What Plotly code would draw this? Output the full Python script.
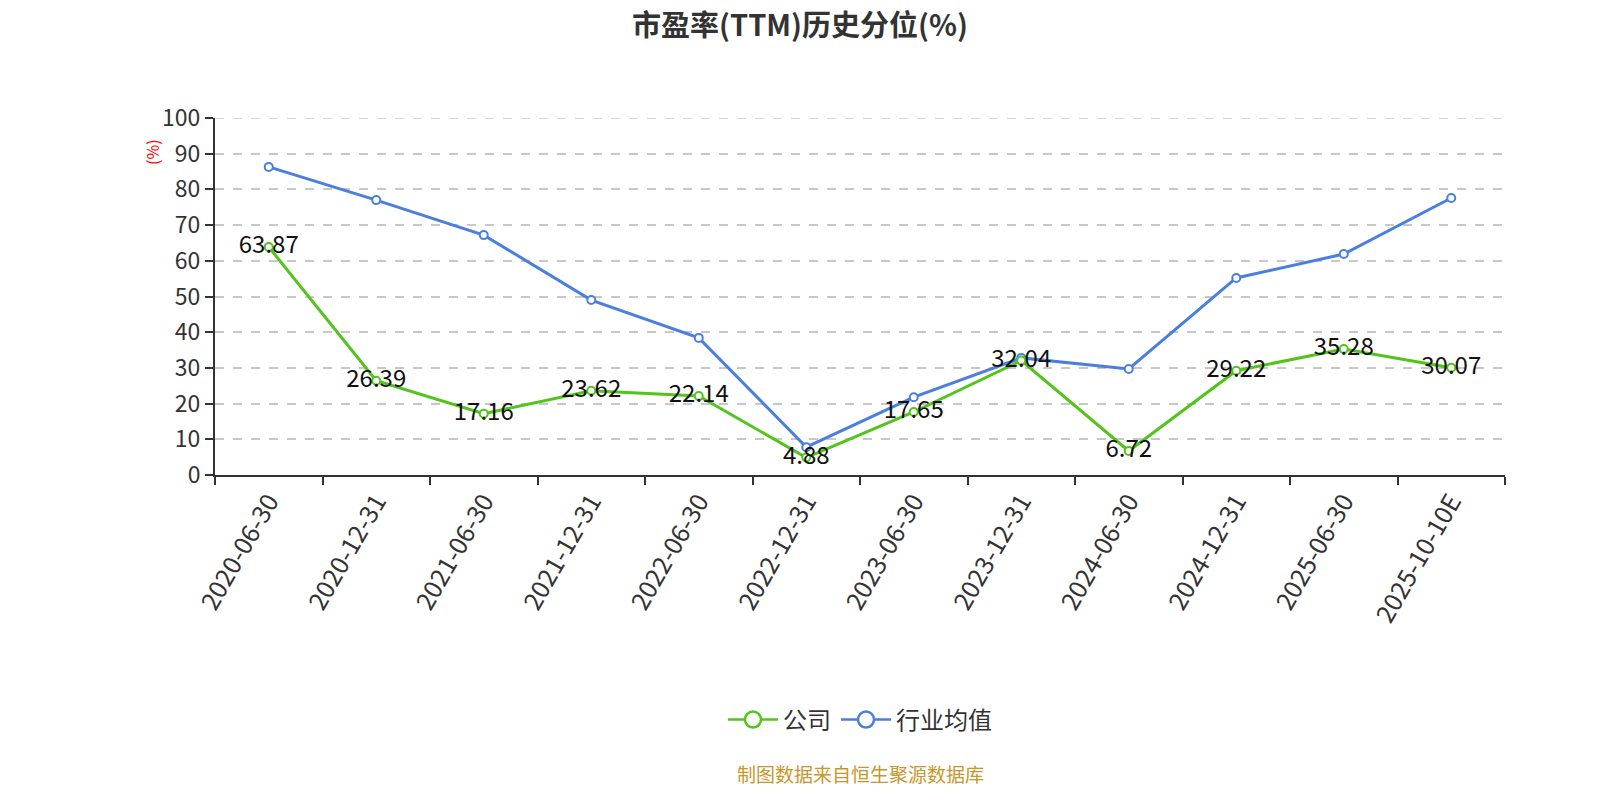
import plotly.graph_objects as go

categories = ["2020-06-30", "2020-12-31", "2021-06-30", "2021-12-31", "2022-06-30",
              "2022-12-31", "2023-06-30", "2023-12-31", "2024-06-30", "2024-12-31",
              "2025-06-30", "2025-10-10E"]
company = [63.87, 26.39, 17.16, 23.62, 22.14, 4.88, 17.65, 32.04, 6.72, 29.22, 35.28, 30.07]
industry = [86.3, 77.0, 67.2, 49.0, 38.4, 7.8, 21.8, 32.8, 29.7, 55.2, 61.9, 77.6]
y_ticks = list(range(0, 101, 10))

FONT = "Noto Sans CJK SC, Microsoft YaHei, sans-serif"
GREEN = "#52c41a"
BLUE = "#4a7fe0"

L, R, T, B = 215, 95, 118, 325
pw = 1600 - L - R
ph = 800 - T - B

fig = go.Figure()
fig.add_trace(go.Scatter(
    x=categories, y=industry, name="行业均值", mode="lines+markers", showlegend=False,
    line=dict(color=BLUE, width=3),
    marker=dict(symbol="circle", size=8, color="white", line=dict(color=BLUE, width=2)),
))
fig.add_trace(go.Scatter(
    x=categories, y=company, name="公司", mode="lines+markers+text", showlegend=False,
    line=dict(color=GREEN, width=3),
    marker=dict(symbol="circle", size=8, color="white", line=dict(color=GREEN, width=2)),
    text=[f"{v:.2f}" for v in company], textposition="middle center",
    textfont=dict(size=24, color="#111", family=FONT),
))
# legend-only entries with larger symbols
for name, color in [("公司", GREEN), ("行业均值", BLUE)]:
    fig.add_trace(go.Scatter(
        x=[None], y=[None], name=name, mode="lines+markers",
        line=dict(color=color, width=2.5),
        marker=dict(symbol="circle", size=20, color="white", line=dict(color=color, width=2.5)),
    ))

fig.add_shape(type="line", xref="paper", yref="y", x0=0, x1=1, y0=100, y1=100,
              line=dict(color="#c8c8c8", width=1.5, dash="dash"), layer="below")

fig.update_layout(
    width=1600, height=800,
    margin=dict(l=L, r=R, t=T, b=B, autoexpand=False),
    paper_bgcolor="white", plot_bgcolor="white",
    font=dict(family=FONT, color="#333"),
    title=dict(text="<b>市盈率(TTM)历史分位(%)</b>", x=0.5, xanchor="center", y=0.968, yanchor="middle",
               font=dict(size=29, color="#333", family=FONT)),
    showlegend=True,
    legend=dict(orientation="h", x=0.5, xanchor="center", y=(475 - 720) / ph, yanchor="middle",
                font=dict(size=24, color="#333", family=FONT), traceorder="normal",
                itemwidth=50, itemsizing="trace"),
    xaxis=dict(type="category", categoryorder="array", categoryarray=categories,
               range=[-0.5, len(categories) - 0.5],
               showline=True, linecolor="#333", linewidth=2, automargin=False,
               ticks="outside", ticklen=8, tickcolor="#333", tickwidth=2,
               tickson="boundaries", showgrid=False,
               tickangle=-60, tickfont=dict(size=25, color="#333", family=FONT)),
    yaxis=dict(range=[0, 100], tickvals=y_ticks, showline=True, linecolor="#333", linewidth=2,
               ticks="outside", ticklen=8, tickcolor="#333", tickwidth=2, automargin=False,
               showgrid=True, gridcolor="#c8c8c8", griddash="dash", gridwidth=1.5,
               zeroline=False, tickfont=dict(size=23, color="#333", family=FONT)),
    annotations=[
        dict(text="(%)", x=(152 - L) / pw, y=(475 - 152) / ph, xref="paper", yref="paper",
             xanchor="center", yanchor="middle",
             showarrow=False, textangle=-90, font=dict(size=16, color="red", family=FONT)),
        dict(text="制图数据来自恒生聚源数据库", x=0.5, y=(475 - 773) / ph, xref="paper", yref="paper",
             xanchor="center", yanchor="middle",
             showarrow=False, font=dict(size=19, color="#c8962a", family=FONT)),
    ],
)

fig.write_html("out.html", config={"displayModeBar": False},
               post_script="document.body.style.margin='0px';document.body.style.overflow='hidden';")
